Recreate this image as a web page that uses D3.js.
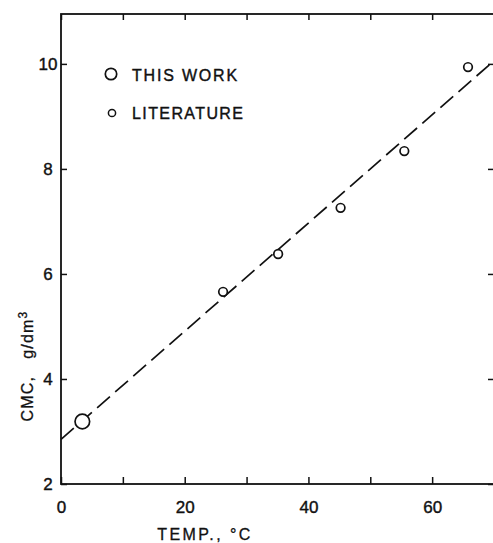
<!DOCTYPE html>
<html>
<head>
<meta charset="utf-8">
<script src="https://cdn.jsdelivr.net/npm/d3@7"></script>
<style>
  body { margin: 0; background: #fff; }
  text { font-family: "Liberation Sans", Arial, sans-serif; fill: #111; }
</style>
</head>
<body>
<div id="chart"></div>
<script>
// data
const thisWorkTemp = [3.45];
const thisWorkCmc = [3.19];
const litTemp = [26.2, 35.1, 45.2, 55.5, 65.8];
const litCmc = [5.66, 6.38, 7.26, 8.34, 9.94];
const fitTemp = [0, 70];
const fitCmc = [2.85, 10.06];
const xTicks = [0, 10, 20, 30, 40, 50, 60, 70];
const xLabels = [0, 20, 40, 60];
const yTicks = [2, 4, 6, 8, 10];

const W = 493, H = 543;

const svg = d3.select("#chart")
  .append("svg")
  .attr("width", W)
  .attr("height", H);

const x = d3.scaleLinear().domain([0, 70]).range([61, 494]);
const y = d3.scaleLinear().domain([2, 10.95]).range([484, 14]);

// frame
svg.append("rect")
  .attr("x", x(0))
  .attr("y", y(10.95))
  .attr("width", x(70) - x(0))
  .attr("height", y(2) - y(10.95))
  .attr("fill", "none")
  .attr("stroke", "#111")
  .attr("stroke-width", 1.8);

// bottom axis
const bottomAxis = svg.append("g")
  .attr("transform", `translate(0,${y(2)})`)
  .call(d3.axisBottom(x).tickValues(xTicks).tickSize(-7).tickPadding(17)
    .tickFormat(d => xLabels.includes(d) ? d : ""));

// top axis
const topAxis = svg.append("g")
  .attr("transform", `translate(0,${y(10.95)})`)
  .call(d3.axisTop(x).tickValues(xTicks).tickSize(-6).tickFormat(""));

// left axis
const leftAxis = svg.append("g")
  .attr("transform", `translate(${x(0)},0)`)
  .call(d3.axisLeft(y).tickValues(yTicks).tickSize(-6).tickPadding(13));

// right axis
const rightAxis = svg.append("g")
  .attr("transform", `translate(${x(70)},0)`)
  .call(d3.axisRight(y).tickValues(yTicks).tickSize(-6).tickFormat(""));

[bottomAxis, topAxis, leftAxis, rightAxis].forEach(g => {
  g.select(".domain").remove();
  g.selectAll(".tick line").attr("stroke", "#111").attr("stroke-width", 1.5);
  g.selectAll(".tick text")
    .style("font-size", "17px")
    .attr("fill", "#111")
    .attr("stroke", "#111")
    .attr("stroke-width", 0.4);
});
leftAxis.selectAll(".tick text").attr("text-anchor", "middle");

// fit line
const line = d3.line().x(d => x(d[0])).y(d => y(d[1]));
svg.append("path")
  .datum(d3.zip(fitTemp, fitCmc))
  .attr("d", line)
  .attr("fill", "none")
  .attr("stroke", "#111")
  .attr("stroke-width", 1.7)
  .attr("stroke-dasharray", "17,7");

// literature points
svg.selectAll(".lit")
  .data(d3.zip(litTemp, litCmc))
  .enter()
  .append("circle")
  .attr("class", "lit")
  .attr("cx", d => x(d[0]))
  .attr("cy", d => y(d[1]))
  .attr("r", 4.3)
  .attr("fill", "#fff")
  .attr("stroke", "#111")
  .attr("stroke-width", 1.7);

// this work
svg.selectAll(".tw")
  .data(d3.zip(thisWorkTemp, thisWorkCmc))
  .enter()
  .append("circle")
  .attr("class", "tw")
  .attr("cx", d => x(d[0]))
  .attr("cy", d => y(d[1]))
  .attr("r", 7.3)
  .attr("fill", "#fff")
  .attr("stroke", "#111")
  .attr("stroke-width", 1.7);

// legend
const legend = svg.append("g");
legend.append("circle")
  .attr("cx", 111).attr("cy", 74).attr("r", 5.7)
  .attr("fill", "none").attr("stroke", "#111").attr("stroke-width", 1.7);
legend.append("text")
  .attr("x", 132).attr("y", 81)
  .style("font-size", "16px")
  .style("letter-spacing", "1.8px")
  .attr("stroke", "#111").attr("stroke-width", 0.4)
  .text("THIS WORK");
legend.append("circle")
  .attr("cx", 112).attr("cy", 113).attr("r", 3.6)
  .attr("fill", "none").attr("stroke", "#111").attr("stroke-width", 1.5);
legend.append("text")
  .attr("x", 132).attr("y", 119)
  .style("font-size", "16px")
  .style("letter-spacing", "1.4px")
  .attr("stroke", "#111").attr("stroke-width", 0.4)
  .text("LITERATURE");

// axis titles
svg.append("text")
  .attr("x", 205).attr("y", 540)
  .attr("text-anchor", "middle")
  .style("font-size", "16px")
  .style("letter-spacing", "2.4px")
  .attr("stroke", "#111").attr("stroke-width", 0.3)
  .text("TEMP., °C");

const yTitle = svg.append("text")
  .attr("transform", "translate(33,366) rotate(-90)")
  .attr("text-anchor", "middle")
  .style("font-size", "16px")
  .style("letter-spacing", "1.2px")
  .style("white-space", "pre")
  .attr("stroke", "#111").attr("stroke-width", 0.3);
yTitle.append("tspan").text("CMC,   g/dm");
yTitle.append("tspan")
  .attr("dy", -6)
  .style("font-size", "12px")
  .text("3");
</script>
</body>
</html>
